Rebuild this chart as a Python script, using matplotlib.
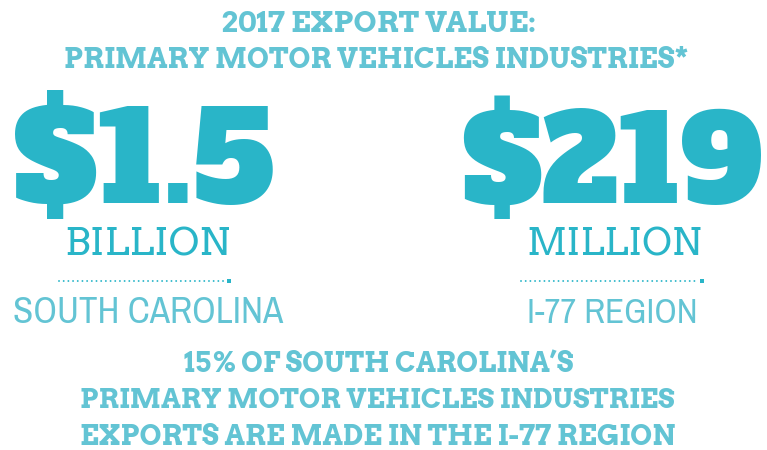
import matplotlib
matplotlib.use("Agg")
import matplotlib.pyplot as plt

# ---- content ----
title_lines = ["2017 EXPORT VALUE:", "PRIMARY MOTOR VEHICLES INDUSTRIES*"]
values = ["$1.5", "$219"]
units = ["BILLION", "MILLION"]
regions = ["SOUTH CAROLINA", "I-77 REGION"]
footer_lines = ["15% OF SOUTH CAROLINA\u2019S",
                "PRIMARY MOTOR VEHICLES INDUSTRIES",
                "EXPORTS ARE MADE IN THE I-77 REGION"]

W, H = 767, 450
DARK = "#29b5c8"
LIGHT = "#63c4d4"
SLAB = "Arvo"
BIG = "Alfa Slab One"
SANS = "Archivo Narrow"

fig = plt.figure(figsize=(W / 100, H / 100), dpi=100)
ax = fig.add_axes([0, 0, 1, 1])
ax.set_xlim(0, W)
ax.set_ylim(H, 0)
ax.axis("off")
renderer = fig.canvas.get_renderer()


def fit_text(s, x0, x1, base, family, weight="normal", color=DARK):
    t = ax.text((x0 + x1) / 2, base, s, family=family, fontweight=weight,
                color=color, ha="center", va="baseline", fontsize=10)
    w = t.get_window_extent(renderer).width
    t.set_fontsize(10 * (x1 - x0) / w)
    return t


# title
fit_text(title_lines[0], 221, 536, 32, SLAB, "bold", LIGHT)
fit_text(title_lines[1], 63, 690, 68, SLAB, "bold", LIGHT)

# big numbers
fit_text(values[0], 13, 274, 203, BIG, "normal", DARK)
fit_text(values[1], 461, 763, 203, BIG, "normal", DARK)

# units
fit_text(units[0], 64, 230, 256, SLAB, "normal", DARK)
fit_text(units[1], 526, 702, 256, SLAB, "normal", DARK)

# dotted separators
for x0, x1 in [(59, 225), (521, 698)]:
    ax.plot([x0, x1], [281, 281], color=DARK, linewidth=1.4,
            linestyle=(0, (0.01, 2.4)), dash_capstyle="round",
            solid_capstyle="round")
    ax.plot([x1 + 4], [281], marker="s", markersize=2.8, color=DARK,
            markeredgewidth=0)

# regions
fit_text(regions[0], 13, 283, 323, SANS, "normal", LIGHT)
fit_text(regions[1], 527, 697, 323, SANS, "normal", LIGHT)

# footer
fit_text(footer_lines[0], 183, 574, 372, SLAB, "bold", LIGHT)
fit_text(footer_lines[1], 80, 674, 408, SLAB, "bold", LIGHT)
fit_text(footer_lines[2], 80, 676, 445, SLAB, "bold", LIGHT)

fig.savefig("out.png", dpi=100)
